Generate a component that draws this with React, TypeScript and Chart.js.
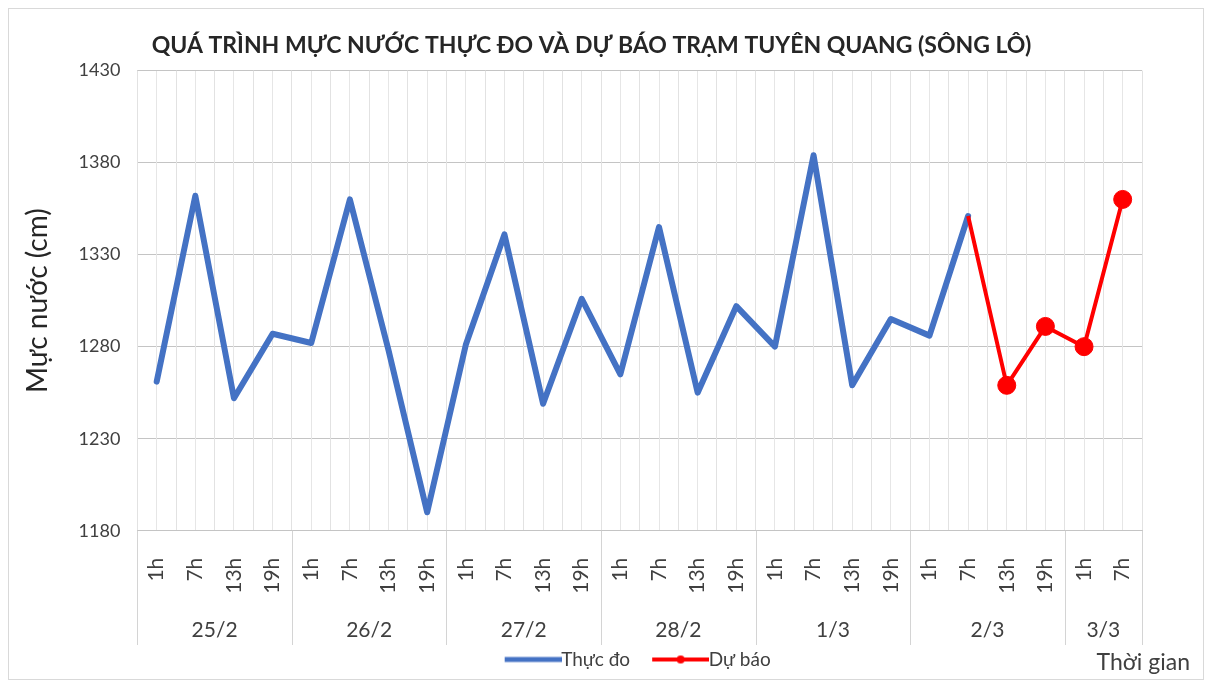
import React, { useEffect, useRef } from "react";
import { Chart, registerables } from "chart.js";

Chart.register(...registerables);

const titleText = "QUÁ TRÌNH MỰC NƯỚC THỰC ĐO VÀ DỰ BÁO TRẠM TUYÊN QUANG (SÔNG LÔ)";
const yTitle = "Mực nước (cm)";
const xTitle = "Thời gian";

const dates = ["25/2", "26/2", "27/2", "28/2", "1/3", "2/3", "3/3"];
const hoursPerDate = [4, 4, 4, 4, 4, 4, 2];
const hourLabels = [
  "1h", "7h", "13h", "19h",
  "1h", "7h", "13h", "19h",
  "1h", "7h", "13h", "19h",
  "1h", "7h", "13h", "19h",
  "1h", "7h", "13h", "19h",
  "1h", "7h", "13h", "19h",
  "1h", "7h",
];

// Thực đo (observed) from 25/2 1h to 2/3 7h
const observed = [
  1261, 1362, 1252, 1287,
  1282, 1360, 1278, 1190,
  1281, 1341, 1249, 1306,
  1265, 1345, 1255, 1302,
  1280, 1384, 1259, 1295,
  1286, 1351,
];
// Dự báo (forecast) from 2/3 7h to 3/3 7h
const forecast = [1351, 1259, 1291, 1280, 1360];

const yMin = 1180;
const yMax = 1430;
const yStep = 50;

const FONT = "Lato, 'Noto Sans', sans-serif";

// legend icon: transparent lead-in on the left, then a 57px line ending at the right edge
function makeIcon(color: string, lineW: number, dot: boolean) {
  const W = 81;
  const lead = 24;
  const c = document.createElement("canvas");
  c.width = W;
  c.height = 12;
  const g = c.getContext("2d")!;
  g.strokeStyle = color;
  g.lineWidth = lineW;
  g.beginPath();
  g.moveTo(lead, 6);
  g.lineTo(W, 6);
  g.stroke();
  if (dot) {
    g.fillStyle = color;
    g.beginPath();
    g.arc((lead + W) / 2, 6, 4, 0, Math.PI * 2);
    g.fill();
  }
  return c;
}

export default function App() {
  const ref = useRef<HTMLCanvasElement | null>(null);

  useEffect(() => {
    if (!ref.current) return;
    const n = hourLabels.length;
    const obsData: (number | null)[] = hourLabels.map((_, i) => (i < observed.length ? observed[i] : null));
    const fStart = observed.length - 1;
    const fcData: (number | null)[] = hourLabels.map((_, i) =>
      i >= fStart && i - fStart < forecast.length ? forecast[i - fStart] : null
    );

    const groupStarts: number[] = [];
    let acc = 0;
    hoursPerDate.forEach((h) => {
      groupStarts.push(acc);
      acc += h;
    });
    const boundaries = [...groupStarts, acc];
    const dateCenters = hoursPerDate.map((h, i) => groupStarts[i] + h / 2 - 0.5);

    const icons = [makeIcon("#4472C4", 5, false), makeIcon("#FF0000", 4, true)];

    const extras = {
      id: "extras",
      afterLayout(chart: any) {
        const ca = chart.chartArea;
        const l = chart.legend;
        if (l) {
          const d = (ca.left + ca.right) / 2 - (l.left + l.right) / 2 - 9;
          l.left += d;
          l.right += d;
        }
        const t = chart.titleBlock;
        if (t) {
          t.left += 11;
          t.right += 11;
        }
      },
      afterDraw(chart: any) {
        const ctx = chart.ctx;
        const ca = chart.chartArea;
        const xd = chart.scales.xd;
        ctx.save();
        ctx.strokeStyle = "#d4d4d4";
        ctx.lineWidth = 1;
        boundaries.forEach((b) => {
          const px = Math.round(xd.getPixelForValue(b - 0.5)) + 0.5;
          ctx.beginPath();
          ctx.moveTo(px, ca.bottom);
          ctx.lineTo(px, xd.bottom + 3);
          ctx.stroke();
        });
        const l = chart.legend;
        ctx.font = `23px ${FONT}`;
        ctx.fillStyle = "#404040";
        ctx.textAlign = "right";
        ctx.textBaseline = "middle";
        ctx.fillText(xTitle, ca.right + 48, (l.top + l.bottom) / 2 + 2);
        ctx.restore();
      },
    };

    const chart = new Chart(ref.current, {
      type: "line",
      data: {
        labels: hourLabels,
        datasets: [
          {
            label: "Thực đo",
            data: obsData,
            xAxisID: "x",
            borderColor: "#4472C4",
            backgroundColor: "#4472C4",
            borderWidth: 6,
            borderJoinStyle: "round",
            borderCapStyle: "round",
            pointRadius: 0,
            tension: 0,
            order: 2,
          },
          {
            label: "Dự báo",
            data: fcData,
            xAxisID: "x",
            borderColor: "#FF0000",
            backgroundColor: "#FF0000",
            borderWidth: 4,
            borderJoinStyle: "round",
            pointRadius: (ctx: any) => (ctx.dataIndex === fStart ? 0 : 9),
            pointBorderWidth: 1,
            pointBackgroundColor: "#FF0000",
            pointBorderColor: "#FF0000",
            tension: 0,
            order: 1,
          },
        ],
      },
      plugins: [extras],
      options: {
        animation: false,
        responsive: true,
        maintainAspectRatio: false,
        layout: { padding: { left: 10, right: 61, top: 0, bottom: 0 } },
        plugins: {
          tooltip: { enabled: false },
          title: {
            display: true,
            text: titleText,
            color: "#262626",
            font: { family: FONT, size: 23, weight: "bold" },
            padding: { top: 23, bottom: 11 },
          },
          legend: {
            position: "bottom",
            labels: {
              usePointStyle: true,
              pointStyleWidth: 61,
              color: "#404040",
              font: { family: FONT, size: 19 },
              padding: 8,
              generateLabels: (ch: any) =>
                ch.data.datasets.map((ds: any, i: number) => ({
                  text: ds.label,
                  fillStyle: ds.borderColor,
                  strokeStyle: ds.borderColor,
                  lineWidth: 0,
                  pointStyle: icons[i],
                  hidden: false,
                  datasetIndex: i,
                  fontColor: "#404040",
                })),
            },
          },
        },
        scales: {
          y: {
            min: yMin,
            max: yMax,
            ticks: {
              stepSize: yStep,
              color: "#404040",
              font: { family: FONT, size: 18 },
              padding: 17,
              callback: (v: any) => String(v),
            },
            grid: { color: "#c4c4c4", drawTicks: false, lineWidth: 1 },
            border: { display: false },
            title: {
              display: true,
              text: yTitle,
              color: "#262626",
              font: { family: FONT, size: 28 },
              padding: { top: 2, bottom: 7 },
            },
          },
          xc: {
            type: "category",
            position: "top",
            labels: hourLabels,
            offset: true,
            grid: { offset: false, color: "#e6e6e6", drawTicks: false },
            ticks: { display: false },
            border: { display: false },
          },
          x: {
            type: "category",
            position: "bottom",
            weight: 1,
            offset: true,
            grid: {
              offset: true,
              color: "#e2e2e2",
              drawTicks: true,
              tickLength: 10,
              tickColor: "rgba(0,0,0,0)",
            },
            border: { display: true, color: "#c4c4c4" },
            ticks: {
              autoSkip: false,
              minRotation: 90,
              maxRotation: 90,
              padding: 17,
              color: "#404040",
              font: { family: FONT, size: 21 },
            },
          },
          xd: {
            type: "linear",
            position: "bottom",
            weight: 2,
            min: -0.5,
            max: n - 0.5,
            afterBuildTicks: (axis: any) => {
              axis.ticks = dateCenters.map((v) => ({ value: v }));
            },
            ticks: {
              autoSkip: false,
              maxRotation: 0,
              minRotation: 0,
              padding: -1,
              color: "#404040",
              font: { family: FONT, size: 21 },
              callback: (v: any) => {
                const i = dateCenters.indexOf(Number(v));
                return i >= 0 ? dates[i] : "";
              },
            },
            grid: { display: false },
            border: { display: false },
          },
        },
      },
    } as any);
    return () => chart.destroy();
  }, []);

  return (
    <div
      style={{
        width: 1196,
        height: 672,
        border: "1px solid #d9d9d9",
        boxSizing: "border-box",
        position: "relative",
        background: "#fff",
      }}
    >
      <canvas ref={ref} />
    </div>
  );
}
